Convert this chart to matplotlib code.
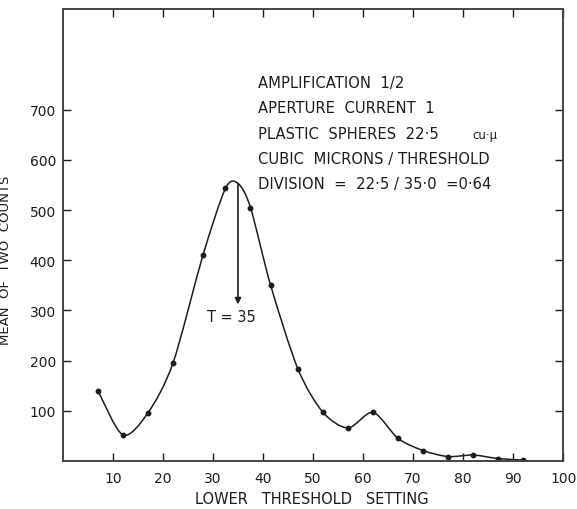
import numpy as np
import matplotlib
matplotlib.use('Agg')
from matplotlib import pyplot as plt
from matplotlib.path import Path
from matplotlib.patches import PathPatch

# lower threshold setting and mean of two counts
threshold = [7, 12, 17, 22, 28, 32.5, 37.5, 41.5, 47, 52, 57, 62, 67, 72, 77, 82, 87, 92]
counts = [140, 52, 96, 195, 410, 543, 505, 351, 183, 97, 66, 97, 45, 21, 9, 12, 5, 2]

# peak marked by the arrow
peak_x, peak_y = 35, 553
arrow_end = 312

x_ticks = [10, 20, 30, 40, 50, 60, 70, 80, 90, 100]
y_ticks = [100, 200, 300, 400, 500, 600, 700]

notes = ['AMPLIFICATION  1/2',
         'APERTURE  CURRENT  1',
         'PLASTIC  SPHERES  22\u00b75',
         'CUBIC  MICRONS / THRESHOLD',
         'DIVISION  =  22\u00b75 / 35\u00b70  =0\u00b764']
note_y = [754, 704, 652, 603, 553]

ink = '#1c1c1c'


def smooth_path(xs, ys, k=7.0):
    # catmull-rom style curve through the knots, drawn as bezier segments
    pts = np.column_stack([xs, ys]).astype(float)
    n = len(pts)
    verts = [pts[0]]
    codes = [Path.MOVETO]
    for i in range(n - 1):
        p0 = pts[i - 1] if i > 0 else pts[i]
        p1 = pts[i]
        p2 = pts[i + 1]
        p3 = pts[i + 2] if i + 2 < n else pts[i + 1]
        verts += [p1 + (p2 - p0) / k, p2 - (p3 - p1) / k, p2]
        codes += [Path.CURVE4] * 3
    return Path(verts, codes)


fig = plt.figure(figsize=(5.77, 5.10), dpi=100)
ax = fig.add_axes([0.109, 0.094, 0.867, 0.886])
ax.set_xlim(0, 100)
ax.set_ylim(0, 900)

# curve knots: the measured points plus the marked peak
kx = threshold[:6] + [peak_x] + threshold[6:]
ky = counts[:6] + [peak_y] + counts[6:]
ax.add_patch(PathPatch(smooth_path(kx, ky), fill=False, color=ink, lw=1.1))
ax.plot(threshold, counts, 'o', color=ink, ms=3.2, ls='none')

ax.annotate('', xy=(peak_x, arrow_end), xytext=(peak_x, peak_y),
            arrowprops=dict(arrowstyle='-|>', color=ink, lw=1.2, mutation_scale=9,
                            shrinkA=0, shrinkB=0))
ax.text(33.7, 287, 'T = 35', ha='center', va='center', fontsize=10.5, color=ink)

for t, yy in zip(notes, note_y):
    ax.text(39, yy, t, ha='left', va='center', fontsize=10.6, color=ink)
ax.text(81.8, 650, 'cu\u00b7\u03bc', ha='left', va='center', fontsize=8.5, color=ink)

ax.set_xticks(x_ticks)
ax.set_xticklabels([str(v) for v in x_ticks])
ax.set_yticks(y_ticks)
ax.set_yticklabels([str(v) for v in y_ticks])
ax.tick_params(direction='in', length=6, width=1, colors=ink, labelsize=10,
               top=True, right=True, pad=7)
ax.tick_params(axis='y', pad=5)

for s in ax.spines.values():
    s.set_color('#444444')
    s.set_linewidth(1.4)

ax.set_xlabel('LOWER   THRESHOLD   SETTING', fontsize=10.5, color=ink, va='center')
ax.set_ylabel('MEAN  OF  TWO  COUNTS', fontsize=9.5, color=ink)
ax.xaxis.set_label_coords(0.498, -0.083)
ax.yaxis.set_label_coords(-0.102, 0.447)

fig.savefig('out.png', dpi=100)
